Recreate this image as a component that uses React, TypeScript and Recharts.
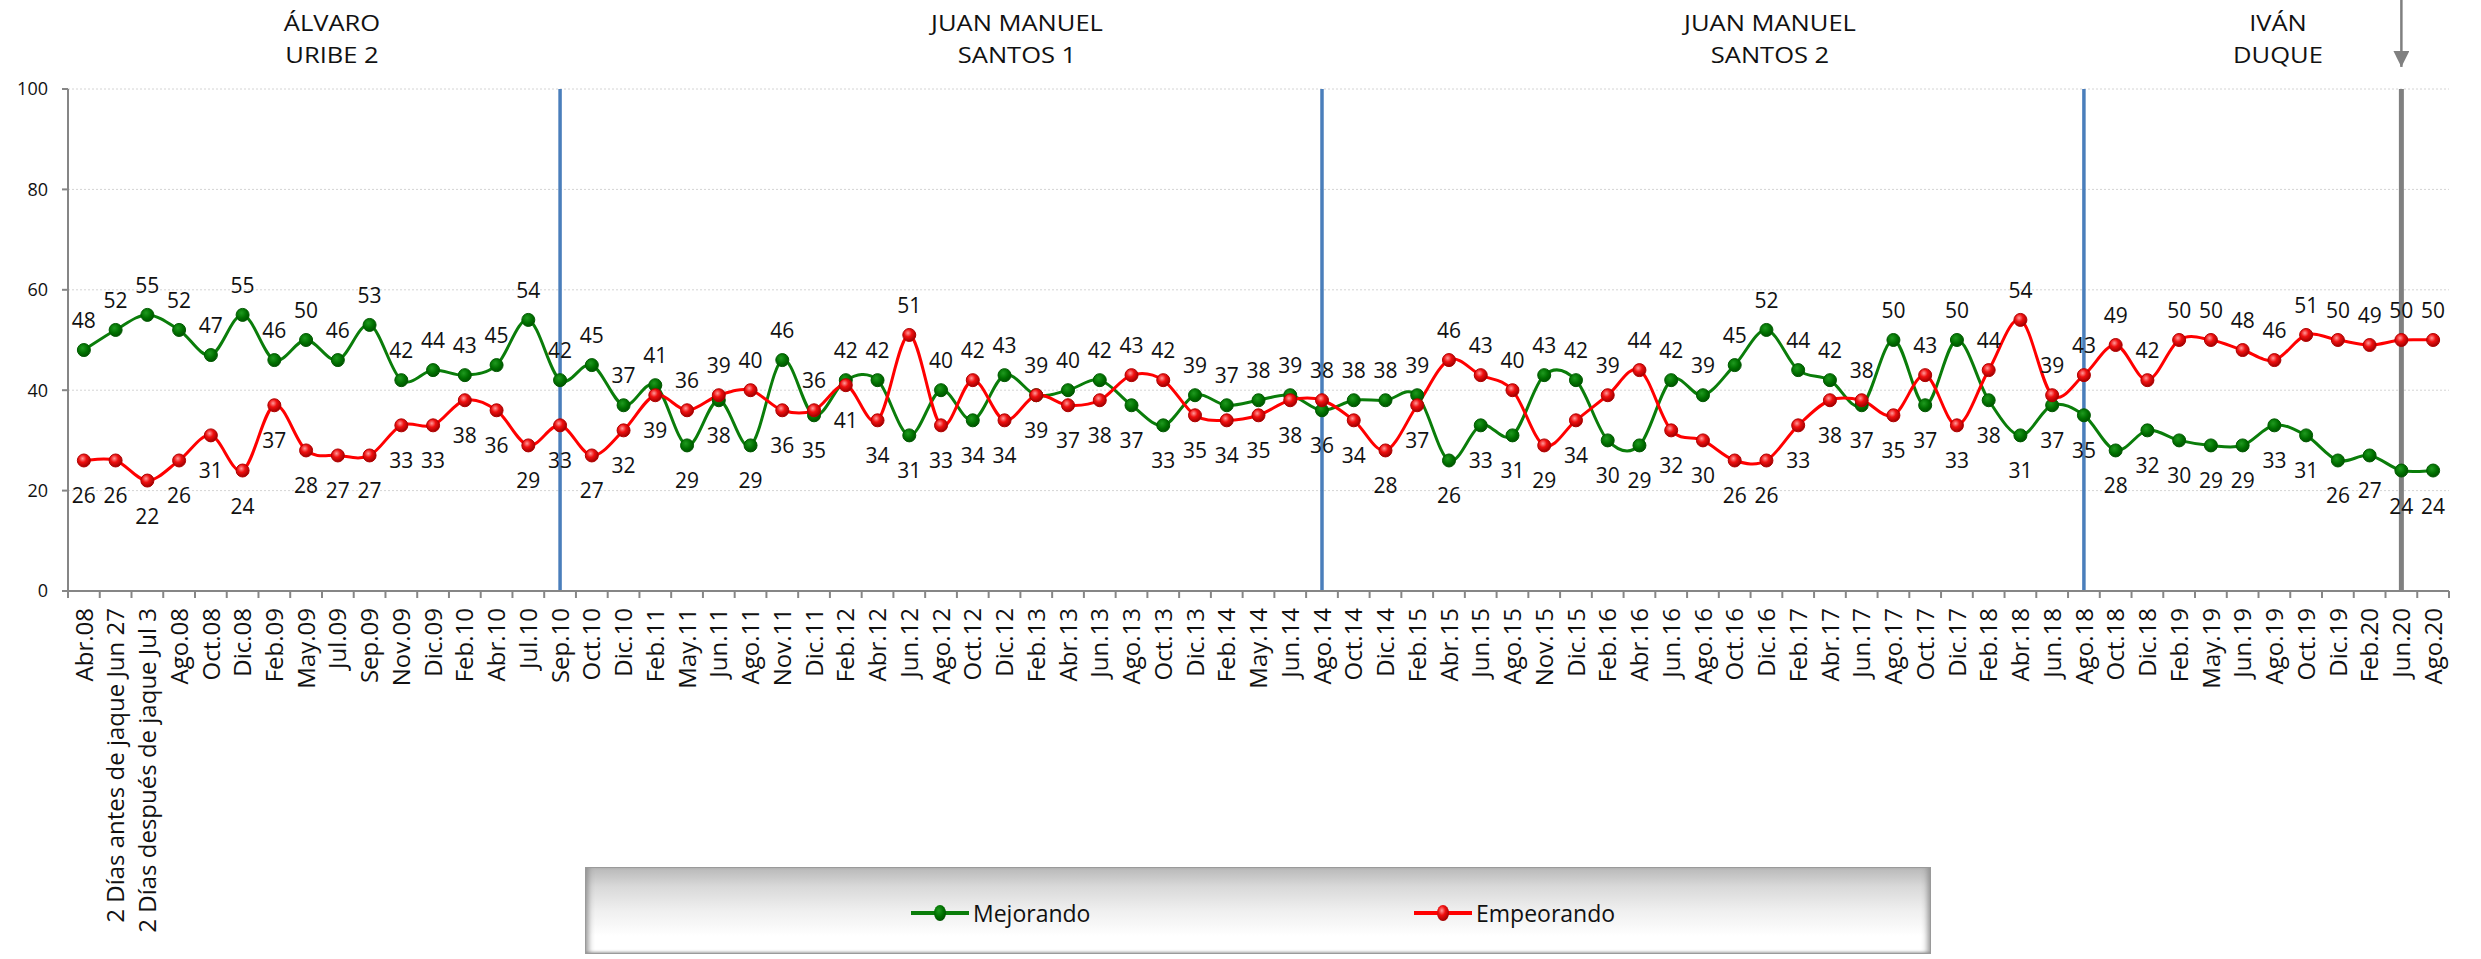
import { CartesianGrid, Line, LineChart, ReferenceLine, XAxis, YAxis } from "recharts";

const categories = [
  "Abr.08", "2 Días antes de jaque Jun 27", "2 Días después de jaque Jul 3", "Ago.08", "Oct.08", "Dic.08",
  "Feb.09", "May.09", "Jul.09", "Sep.09", "Nov.09", "Dic.09", "Feb.10", "Abr.10", "Jul.10",
  "Sep.10", "Oct.10", "Dic.10", "Feb.11", "May.11", "Jun.11", "Ago.11", "Nov.11", "Dic.11",
  "Feb.12", "Abr.12", "Jun.12", "Ago.12", "Oct.12", "Dic.12", "Feb.13", "Abr.13", "Jun.13",
  "Ago.13", "Oct.13", "Dic.13", "Feb.14", "May.14", "Jun.14", "Ago.14", "Oct.14", "Dic.14",
  "Feb.15", "Abr.15", "Jun.15", "Ago.15", "Nov.15", "Dic.15", "Feb.16", "Abr.16", "Jun.16",
  "Ago.16", "Oct.16", "Dic.16", "Feb.17", "Abr.17", "Jun.17", "Ago.17", "Oct.17", "Dic.17",
  "Feb.18", "Abr.18", "Jun.18", "Ago.18", "Oct.18", "Dic.18", "Feb.19", "May.19", "Jun.19",
  "Ago.19", "Oct.19", "Dic.19", "Feb.20", "Jun.20", "Ago.20",
];

const mejorando = [
  48, 52, 55, 52, 47, 55, 46, 50, 46, 53, 42, 44, 43, 45, 54,
  42, 45, 37, 41, 29, 38, 29, 46, 35, 42, 42, 31, 40, 34, 43,
  39, 40, 42, 37, 33, 39, 37, 38, 39, 36, 38, 38, 39, 26, 33,
  31, 43, 42, 30, 29, 42, 39, 45, 52, 44, 42, 37, 50, 37, 50,
  38, 31, 37, 35, 28, 32, 30, 29, 29, 33, 31, 26, 27, 24, 24,
];

const empeorando = [
  26, 26, 22, 26, 31, 24, 37, 28, 27, 27, 33, 33, 38, 36, 29,
  33, 27, 32, 39, 36, 39, 40, 36, 36, 41, 34, 51, 33, 42, 34,
  39, 37, 38, 43, 42, 35, 34, 35, 38, 38, 34, 28, 37, 46, 43,
  40, 29, 34, 39, 44, 32, 30, 26, 26, 33, 38, 38, 35, 43, 33,
  44, 54, 39, 43, 49, 42, 50, 50, 48, 46, 51, 50, 49, 50, 50,
];

const yTicks = [0, 20, 40, 60, 80, 100];
const periodStarts = ["Sep.10", "Ago.14", "Ago.18"];
const currentMark = "Jun.20";

const periodTitles = [
  { lines: ["ÁLVARO", "URIBE 2"], center: 332 },
  { lines: ["JUAN MANUEL", "SANTOS 1"], center: 1017 },
  { lines: ["JUAN MANUEL", "SANTOS 2"], center: 1770 },
  { lines: ["IVÁN", "DUQUE"], center: 2278 },
];

const W = 2481;
const H = 959;
const MARGIN = { top: 89, right: 32, left: 8, bottom: 0 };
const Y_AXIS_W = 60;
const X_AXIS_H = H - 591;
const PLOT_W = W - MARGIN.left - MARGIN.right - Y_AXIS_W;
const BAND = PLOT_W / categories.length;
const FONT = "'Open Sans', sans-serif";
const AXIS_GRAY = "#868686";

const rows = categories.map((cat, i) => ({ cat, mej: mejorando[i], emp: empeorando[i] }));

// Excel-like smoothed line (Catmull-Rom through the points)
const excelSmooth = (ctx: any) => {
  let pts: [number, number][] = [];
  return {
    areaStart() {},
    areaEnd() {},
    lineStart() {
      pts = [];
    },
    point(x: number, y: number) {
      pts.push([+x, +y]);
    },
    lineEnd() {
      const n = pts.length;
      if (!n) return;
      ctx.moveTo(pts[0][0], pts[0][1]);
      for (let i = 0; i < n - 1; i++) {
        const p0 = pts[Math.max(i - 1, 0)];
        const p1 = pts[i];
        const p2 = pts[i + 1];
        const p3 = pts[Math.min(i + 2, n - 1)];
        ctx.bezierCurveTo(
          p1[0] + (p2[0] - p0[0]) / 6,
          p1[1] + (p2[1] - p0[1]) / 6,
          p2[0] - (p3[0] - p1[0]) / 6,
          p2[1] - (p3[1] - p1[1]) / 6,
          p2[0],
          p2[1]
        );
      }
    },
  };
};

function makeDot(own: number[], other: number[], fill: string, stroke: string, winsTie: boolean) {
  return (p: any) => {
    const i = p.index;
    const v = own[i];
    const above = v > other[i] || (v === other[i] && winsTie);
    return (
      <g key={`pt-${fill}-${i}`}>
        <circle cx={p.cx} cy={p.cy} r={6.5} fill={fill} stroke={stroke} strokeWidth={1} />
        <text
          x={p.cx}
          y={above ? p.cy - 22 : p.cy + 43}
          textAnchor="middle"
          fontSize={21}
          fontFamily={FONT}
          fill="#111"
        >
          {v}
        </text>
      </g>
    );
  };
}

function XTick({ x, y, payload, index }: any) {
  const last = index === categories.length - 1;
  return (
    <g>
      <line x1={x - BAND / 2} x2={x - BAND / 2} y1={y} y2={y + 7} stroke={AXIS_GRAY} strokeWidth={2} />
      {last && <line x1={x + BAND / 2} x2={x + BAND / 2} y1={y} y2={y + 7} stroke={AXIS_GRAY} strokeWidth={2} />}
      <text
        transform={`translate(${x},${y + 17}) rotate(-90)`}
        textAnchor="end"
        dy="0.36em"
        fontSize={24}
        fontFamily={FONT}
        fill="#111"
      >
        {payload.value}
      </text>
    </g>
  );
}

function LegendBox() {
  const item = (color: string, fill: string, label: string, left: number) => (
    <div style={{ position: "absolute", left, top: 30, height: 30, display: "flex", alignItems: "center" }}>
      <svg width={60} height={30}>
        <line x1={0} x2={58} y1={15} y2={15} stroke={color} strokeWidth={4} />
        <ellipse cx={29} cy={15} rx={6} ry={8} fill={fill} />
      </svg>
      <span style={{ fontSize: 23, fontFamily: FONT, color: "#111", marginLeft: 2 }}>{label}</span>
    </div>
  );
  return (
    <div
      style={{
        position: "absolute",
        left: 585,
        top: 867,
        width: 1346,
        height: 87,
        boxSizing: "border-box",
        border: "1px solid #9a9a9a",
        background: "linear-gradient(180deg, #b9b9b9 0%, #d9d9d9 22%, #efefef 50%, #ffffff 80%, #ffffff 100%)",
        boxShadow: "inset 7px 0 6px -5px #8a8a8a, inset -7px 0 6px -5px #8a8a8a, inset 0 -3px 3px -2px #aaaaaa",
      }}
    >
      {item("#0a7d0a", "url(#greenDot)", "Mejorando", 910 - 585)}
      {item("#ff0000", "url(#redDot)", "Empeorando", 1413 - 585)}
    </div>
  );
}

export default function App() {
  return (
    <div style={{ position: "absolute", left: 0, top: 0, width: W, height: H, background: "#fff", overflow: "hidden" }}>
      <svg width={0} height={0} style={{ position: "absolute" }}>
        <defs>
          <radialGradient id="redDot" cx="40%" cy="35%" r="65%">
            <stop offset="0%" stopColor="#ff9a9a" />
            <stop offset="45%" stopColor="#f01010" />
            <stop offset="100%" stopColor="#a00000" />
          </radialGradient>
          <radialGradient id="greenDot" cx="40%" cy="35%" r="65%">
            <stop offset="0%" stopColor="#1f9a1f" />
            <stop offset="60%" stopColor="#007000" />
            <stop offset="100%" stopColor="#005200" />
          </radialGradient>
          <marker id="arrowHead" markerUnits="userSpaceOnUse" markerWidth={16} markerHeight={16} refX={16} refY={8} orient="auto">
            <path d="M0,0 L16,8 L0,16 z" fill="#808080" />
          </marker>
        </defs>
      </svg>

      {periodTitles.map((t) => (
        <div
          key={t.lines.join(" ")}
          style={{
            position: "absolute",
            left: t.center - 150,
            top: 6,
            width: 300,
            textAlign: "center",
            fontFamily: FONT,
            fontSize: 22,
            lineHeight: "32px",
            color: "#111",
            transform: "scaleX(1.16)",
          }}
        >
          {t.lines.map((l) => (
            <div key={l}>{l}</div>
          ))}
        </div>
      ))}

      <LineChart width={W} height={H} data={rows} margin={MARGIN}>
        <CartesianGrid vertical={false} stroke="#d4d4d4" strokeDasharray="2 2" />
        <XAxis
          dataKey="cat"
          interval={0}
          height={X_AXIS_H}
          padding={{ left: BAND / 2, right: BAND / 2 }}
          tickSize={0}
          tickMargin={0}
          tickLine={false}
          axisLine={{ stroke: AXIS_GRAY, strokeWidth: 2 }}
          tick={<XTick />}
        />
        <YAxis
          width={Y_AXIS_W}
          domain={[0, 100]}
          ticks={yTicks}
          interval={0}
          tickSize={6}
          tickMargin={14}
          axisLine={{ stroke: AXIS_GRAY, strokeWidth: 2 }}
          tickLine={{ stroke: AXIS_GRAY, strokeWidth: 2 }}
          tick={{ fontSize: 18, fontFamily: FONT, fill: "#111" }}
        />
        {periodStarts.map((c) => (
          <ReferenceLine key={c} x={c} stroke="#4a7ebb" strokeWidth={3.5} />
        ))}
        <ReferenceLine x={currentMark} stroke="#808080" strokeWidth={5} />
        <ReferenceLine
          segment={[
            { x: currentMark, y: 118 },
            { x: currentMark, y: 104.4 },
          ]}
          stroke="#808080"
          strokeWidth={2.5}
          markerEnd="url(#arrowHead)"
          ifOverflow="visible"
        />
        <Line
          dataKey="mej"
          name="Mejorando"
          type={excelSmooth as any}
          stroke="#0a7d0a"
          strokeWidth={3}
          dot={makeDot(mejorando, empeorando, "url(#greenDot)", "#005a00", true)}
          activeDot={false}
          isAnimationActive={false}
        />
        <Line
          dataKey="emp"
          name="Empeorando"
          type={excelSmooth as any}
          stroke="#ff0000"
          strokeWidth={3}
          dot={makeDot(empeorando, mejorando, "url(#redDot)", "#b00000", false)}
          activeDot={false}
          isAnimationActive={false}
        />
      </LineChart>

      <LegendBox />
    </div>
  );
}
